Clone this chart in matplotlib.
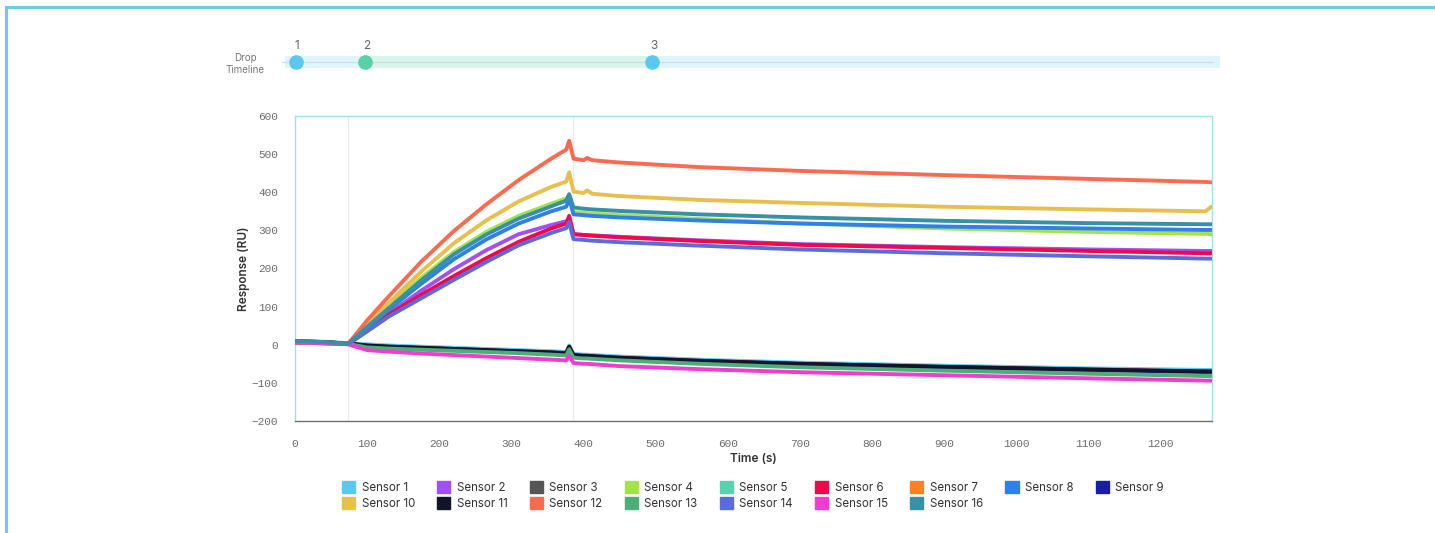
import matplotlib
matplotlib.use("Agg")
import matplotlib.pyplot as plt
from matplotlib.lines import Line2D
from matplotlib.patches import Patch

# sample times (s), shared by every sensor trace
times = [0, 40, 74, 100, 130, 175, 220, 265, 310, 355, 376, 380, 386,
         400, 405, 412, 450, 560, 700, 900, 1100, 1262, 1270]

# response (RU) per sensor at the times above
sensor_1 = [10, 8, 4, 1, -2, -5, -8, -11, -14, -17, -19, -2, -24,
            -26, -26, -27, -31, -39, -47, -55, -62, -66, -66]
sensor_2 = [8, 6, 3, 40, 82, 142, 198, 248, 290, 314, 324, 330, 290,
            288, 288, 287, 283, 274, 264, 256, 250, 246, 246]
sensor_3 = [9, 7, 3, -2, -5, -8, -11, -14, -17, -20, -22, -6, -27,
            -29, -29, -30, -34, -42, -50, -58, -65, -70, -70]
sensor_4 = [9, 6, 3, 49, 102, 176, 243, 296, 338, 370, 384, 390, 348,
            346, 345, 344, 340, 330, 318, 305, 296, 291, 290]
sensor_5 = [9, 7, 3, -5, -8, -11, -14, -17, -20, -23, -25, -9, -31,
            -33, -33, -34, -38, -47, -55, -64, -72, -77, -77]
sensor_6 = [5, 4, 2, 38, 79, 131, 180, 227, 270, 305, 318, 338, 290,
            288, 287, 286, 282, 272, 262, 254, 246, 240, 240]
sensor_7 = [5, 4, 2, -3, -6, -9, -12, -15, -18, -21, -23, -7, -28,
            -30, -30, -31, -35, -43, -51, -59, -66, -70, -70]
sensor_8 = [9, 6, 3, 45, 92, 160, 224, 276, 318, 350, 362, 385, 342,
            340, 339, 338, 334, 326, 318, 310, 305, 301, 301]
sensor_9 = [8, 6, 3, -3, -6, -9, -12, -15, -18, -21, -23, -7, -28,
            -30, -30, -31, -35, -43, -51, -59, -66, -71, -71]
sensor_10 = [8, 6, 4, 55, 110, 192, 266, 326, 376, 414, 428, 452, 402,
             398, 405, 396, 390, 380, 372, 362, 355, 350, 362]
sensor_11 = [9, 7, 3, -2, -5, -8, -11, -14, -17, -20, -22, -5, -27,
             -29, -29, -30, -34, -42, -50, -58, -65, -70, -70]
sensor_12 = [6, 4, 3, 64, 127, 218, 298, 368, 432, 488, 512, 535, 488,
             484, 490, 484, 478, 466, 456, 445, 435, 427, 426]
sensor_13 = [8, 6, 2, -7, -10, -13, -16, -19, -22, -26, -28, -12, -34,
             -36, -36, -37, -41, -50, -59, -68, -76, -82, -82]
sensor_14 = [9, 6, 2, 35, 74, 122, 170, 217, 261, 293, 306, 322, 277,
             275, 274, 273, 269, 260, 250, 240, 232, 226, 226]
sensor_15 = [6, 4, 1, -14, -18, -23, -27, -31, -35, -39, -41, -28, -48,
             -50, -50, -51, -56, -64, -72, -80, -88, -94, -94]
sensor_16 = [10, 7, 3, 47, 96, 169, 237, 289, 331, 363, 378, 395, 360,
             357, 356, 355, 351, 342, 334, 325, 319, 316, 316]

sensor_names = ["Sensor %d" % i for i in range(1, 17)]
sensor_colors = ["#5bc8f0", "#a24ff6", "#555555", "#a3e34a", "#5ccfae",
                 "#f2074a", "#ff7f27", "#2f80ed", "#1a1fa0", "#e8bf4d",
                 "#13132b", "#fd6a4f", "#4caf78", "#5c6bdb", "#f23ccf",
                 "#3690a6"]
series = [sensor_1, sensor_2, sensor_3, sensor_4, sensor_5, sensor_6,
          sensor_7, sensor_8, sensor_9, sensor_10, sensor_11, sensor_12,
          sensor_13, sensor_14, sensor_15, sensor_16]

# injection markers on the sensorgram
event_times = [74, 386]

# drop timeline
drop_labels = ["1", "2", "3"]
drop_times = [1, 97, 495]
drop_colors = ["#5bc8f0", "#5ccfa8", "#5bc8f0"]

W, H = 1435, 533
fig = plt.figure(figsize=(W / 100, H / 100), dpi=100)
fig.patch.set_facecolor("white")

# outer card border (top and left edges)
frame = "#6ccde1"
fig.add_artist(Line2D([5.5 / W, 1.0], [1 - 6.5 / H, 1 - 6.5 / H],
                      transform=fig.transFigure, color=frame, lw=2.2))
fig.add_artist(Line2D([5.5 / W, 5.5 / W], [0, 1 - 6.5 / H],
                      transform=fig.transFigure, color=frame, lw=2.2))

x0, x1 = 295 / W, 1212 / W
ax = fig.add_axes([x0, 1 - 421 / H, x1 - x0, (421 - 116) / H])
xmax = 1271

for name, vals, col in zip(sensor_names, series, sensor_colors):
    ax.plot(times, vals, color=col, lw=2.8, solid_joinstyle="round",
            solid_capstyle="round", label=name, zorder=3)

for t in event_times:
    ax.axvline(t, color="#ebebeb", lw=1, zorder=1)

ax.set_xlim(0, xmax)
ax.set_ylim(-200, 600)
ax.set_xticks(range(0, 1201, 100))
ax.set_yticks(range(-200, 601, 100))
ax.set_yticklabels([str(v).replace("-", "\u2212") for v in range(-200, 601, 100)])
ax.tick_params(length=0, pad=13, labelsize=8, labelcolor="#6b6b6b")
ax.tick_params(axis="y", pad=12)
for lab in ax.get_xticklabels() + ax.get_yticklabels():
    lab.set_family("Liberation Mono")

for side in ("left", "top", "right"):
    ax.spines[side].set_color("#a9ddee")
    ax.spines[side].set_linewidth(1.0)
ax.spines["bottom"].set_color("#6f6f6f")
ax.spines["bottom"].set_linewidth(1.0)

ax.set_xlabel("Time (s)", family="Inter", fontsize=8.5, fontweight="semibold",
              color="#333333", labelpad=3)
ax.set_ylabel("Response (RU)", family="Inter", fontsize=8.5,
              fontweight="semibold", color="#333333", labelpad=1)

# legend: row-major order over 9 columns
patches = [Patch(facecolor=c, edgecolor=c, label=n)
           for n, c in zip(sensor_names, sensor_colors)]
order = []
for i in range(9):
    order.append(i)
    if i + 9 < 16:
        order.append(i + 9)
leg = fig.legend([patches[i] for i in order], [sensor_names[i] for i in order],
                 loc="center", bbox_to_anchor=(753 / W, 1 - 495.5 / H),
                 ncol=9, frameon=False, prop={"family": "Inter", "size": 8.3},
                 handlelength=1.13, handleheight=1.13, handletextpad=0.55,
                 columnspacing=1.95, labelspacing=0.3, borderpad=0)
for txt in leg.get_texts():
    txt.set_color("#333333")

# drop timeline strip above the chart
tl = fig.add_axes([x0, 1 - 80 / H, x1 - x0, 44 / H])
tl.set_xlim(0, xmax)
tl.set_ylim(44, 0)
tl.axis("off")
tl.fill_between([-14, 1282], 20, 32, color="#e0f4fb", lw=0, clip_on=False)
tl.fill_between([drop_times[1], drop_times[2]], 20, 32, color="#d9f4ea",
                lw=0, clip_on=False)
tl.plot([-18, 1273], [26, 26], color="#c9dfe7", lw=0.9, clip_on=False)
for lab, t, c in zip(drop_labels, drop_times, drop_colors):
    tl.plot(t, 26, "o", ms=9.5, color=c, mec=c, clip_on=False, zorder=4)
    tl.text(t + 2, 10, lab, ha="center", va="center", fontsize=8.5,
            family="Inter", color="#666666")
tl.text(-69, 28, "Drop\nTimeline", ha="center", va="center", fontsize=7,
        family="Inter", color="#777777", linespacing=1.2)

fig.savefig("out.png", dpi=100)
